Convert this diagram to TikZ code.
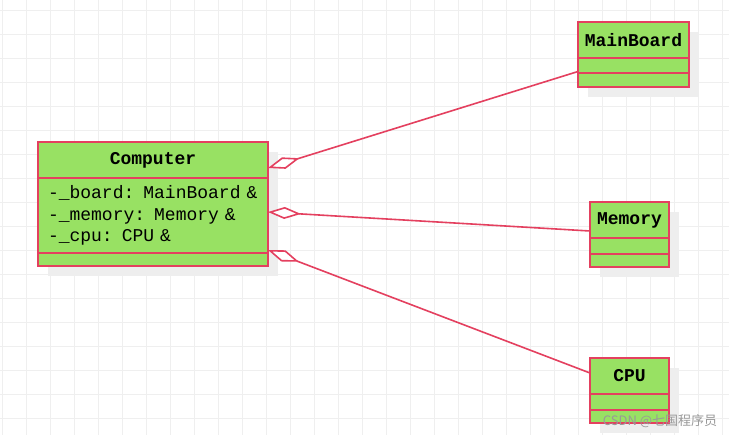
\documentclass[tikz,border=0pt]{standalone}
\usepackage{fontspec}
\usepackage{tikz}
\usetikzlibrary{arrows.meta, positioning, shadows}

\newfontfamily\umlmono{Liberation Mono}
\newfontfamily\cjkwm{Noto Sans CJK SC}

\definecolor{umlgreen}{HTML}{98E163}
\definecolor{umlred}{HTML}{E4405F}
\definecolor{shadowgray}{HTML}{EEEEEE}
\definecolor{gridgray}{HTML}{EFEFEF}

\begin{document}
\begin{tikzpicture}[
    x=1pt, y=-1pt,
    gridline/.style={gridgray, line width=1pt},
    compart/.style={rectangle, draw=umlred, fill=umlgreen, line width=1.6pt,
                    inner sep=0pt, outer sep=0pt,
                    drop shadow={shadow xshift=10pt, shadow yshift=-10pt,
                                 fill=shadowgray, opacity=1}},
    classhead/.style={compart, minimum height=36pt,
                      font=\umlmono\bfseries\fontsize{18}{21.6}\selectfont},
    classattr/.style={compart, inner xsep=10pt, align=left,
                      font=\umlmono\fontsize{18}{21.6}\selectfont},
    aggr/.style={umlred, line width=1.6pt,
                 {Diamond[fill=white, length=33pt, width=12pt]}-},
]
\useasboundingbox (0,0) rectangle (729,435);
\fill[white] (0,0) rectangle (729,435);

% background grid
\foreach \gx in {2.5,26.5,...,729} \draw[gridline] (\gx,0) -- (\gx,435);
\foreach \gy in {10.5,34.5,...,435} \draw[gridline] (0,\gy) -- (729,\gy);

% Computer
\node[classhead, minimum width=230pt] (comp) at (153,160) {Computer};
\node[classattr, text width=210pt, minimum height=75pt, below=0pt of comp]
    (compattr) {-\_board: MainBoard \&\\-\_memory: Memory \&\\-\_cpu: CPU \&};
\node[compart, minimum width=230pt, minimum height=13pt, below=0pt of compattr]
    (compops) {};

% MainBoard
\node[classhead, minimum width=111pt] (mb) at (633.5,40) {MainBoard};
\node[compart, minimum width=111pt, minimum height=15pt, below=0pt of mb]
    (mbattr) {};
\node[compart, minimum width=111pt, minimum height=14pt, below=0pt of mbattr]
    (mbops) {};

% Memory
\node[classhead, minimum width=79pt] (mem) at (629.5,220) {Memory};
\node[compart, minimum width=79pt, minimum height=16pt, below=0pt of mem]
    (memattr) {};
\node[compart, minimum width=79pt, minimum height=13pt, below=0pt of memattr]
    (memops) {};

% CPU
\node[classhead, minimum width=79pt] (cpu) at (629.5,376) {CPU};
\node[compart, minimum width=79pt, minimum height=16pt, below=0pt of cpu]
    (cpuattr) {};
\node[compart, minimum width=79pt, minimum height=13pt, below=0pt of cpuattr]
    (cpuops) {};

% aggregations
\draw[aggr] ([yshift=-8pt]comp.east) -- ([yshift=-6pt]mbattr.west);
\draw[aggr] ([yshift=3.5pt]compattr.east) -- ([yshift=-11pt]mem.west);
\draw[aggr] ([yshift=3pt]compattr.south east) -- ([yshift=3pt]cpu.west);

% watermark
\node[font=\cjkwm\fontsize{13}{13}\selectfont, text=gray!80, inner sep=0pt]
    (wmark) at (660,421) {CSDN @七国程序员};
\end{tikzpicture}
\end{document}
